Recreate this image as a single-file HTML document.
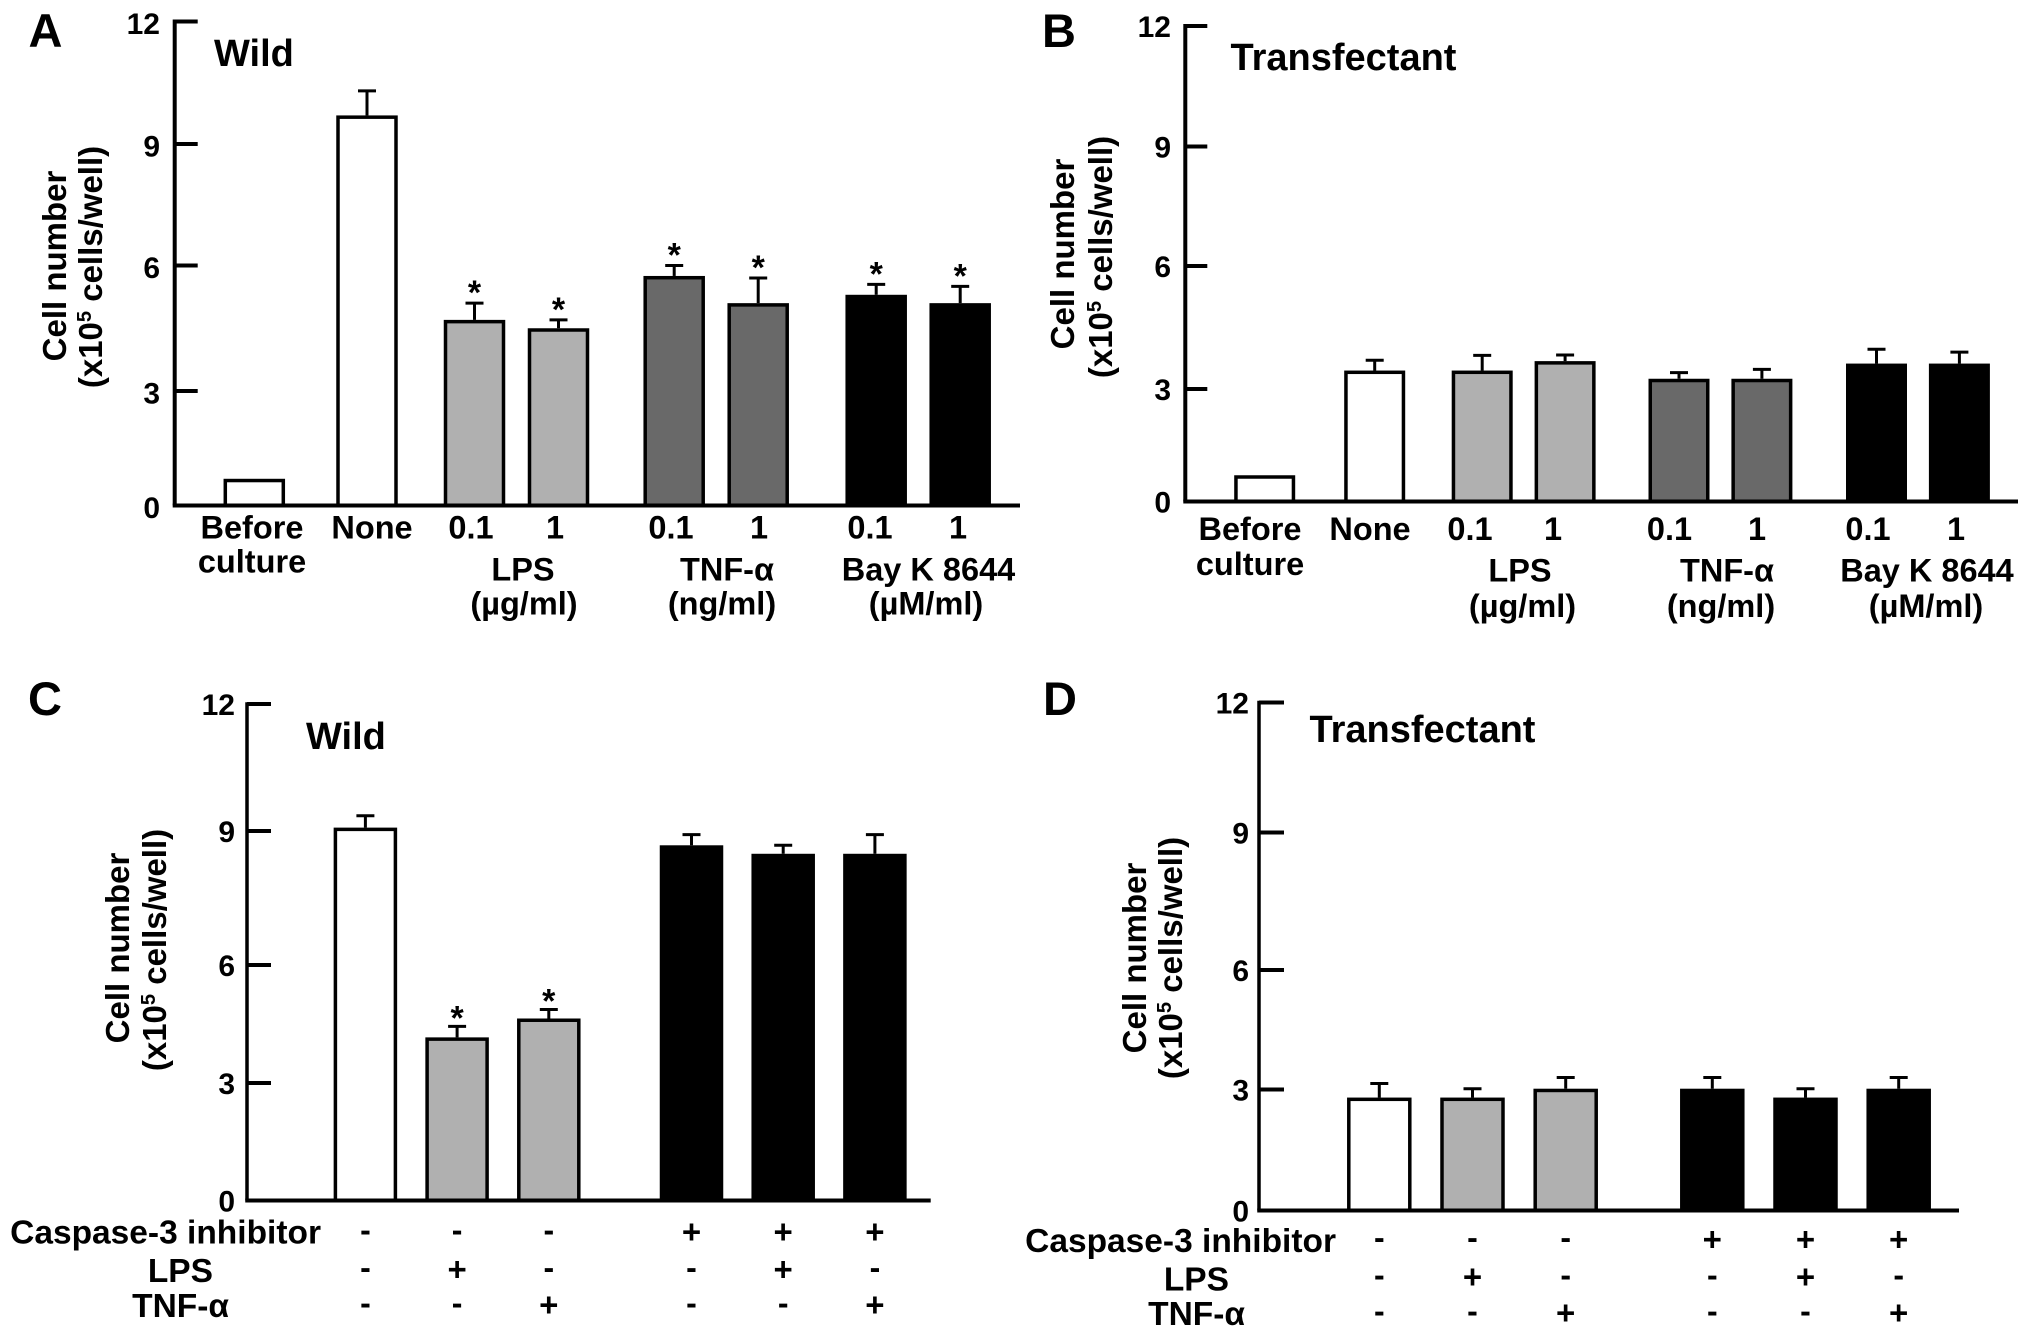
<!DOCTYPE html>
<html lang="en">
<head>
<meta charset="utf-8">
<title>Cell number bar charts</title>
<style>
html,body{margin:0;padding:0;background:#fff;}
svg{display:block;}
text{font-family:"Liberation Sans",Arial,sans-serif;font-weight:bold;fill:#000;}
.lbl{font-size:32.5px;}
.rowlbl{font-size:33.5px;text-anchor:end;}
.ctr{text-anchor:middle;}
.title{font-size:38px;}
.panel-letter{font-size:47px;}
.ytitle{font-size:33px;text-anchor:middle;}
.ytick{font-size:30px;text-anchor:end;}
</style>
</head>
<body>
<svg id="figure" width="2031" height="1338" viewBox="0 0 2031 1338" xmlns="http://www.w3.org/2000/svg">
<rect x="0" y="0" width="2031" height="1338" fill="#fff"/>

<g id="panel-a">
<text class="panel-letter" x="28.5" y="47">A</text>
<text class="title" x="214" y="66">Wild</text>
<text class="ytitle" transform="translate(66,266) rotate(-90)">Cell number</text>
<text class="ytitle" transform="translate(102,267) rotate(-90)">(x10<tspan dy="-11" font-size="20">5</tspan><tspan dy="11"> cells/well)</tspan></text>
<text class="lbl ctr" x="252" y="538.5">Before</text>
<text class="lbl ctr" x="252" y="572.5">culture</text>
<text class="lbl ctr" x="372" y="538.5">None</text>
<text class="lbl ctr" x="471" y="538.5">0.1</text>
<text class="lbl ctr" x="555" y="538.5">1</text>
<text class="lbl ctr" x="671" y="538.5">0.1</text>
<text class="lbl ctr" x="759" y="538.5">1</text>
<text class="lbl ctr" x="870" y="538.5">0.1</text>
<text class="lbl ctr" x="958" y="538.5">1</text>
<text class="lbl ctr" x="523" y="580.5">LPS</text>
<text class="lbl ctr" x="524" y="614.5">(µg/ml)</text>
<text class="lbl ctr" x="727" y="580.5">TNF-α</text>
<text class="lbl ctr" x="722" y="614.5">(ng/ml)</text>
<text class="lbl ctr" x="928.5" y="580.5">Bay K 8644</text>
<text class="lbl ctr" x="926" y="614.5">(µM/ml)</text>
</g>

<g id="panel-b">
<text class="panel-letter" x="1042" y="47">B</text>
<text class="title" x="1230.5" y="70">Transfectant</text>
<text class="ytitle" transform="translate(1074,254) rotate(-90)">Cell number</text>
<text class="ytitle" transform="translate(1112,257) rotate(-90)">(x10<tspan dy="-11" font-size="20">5</tspan><tspan dy="11"> cells/well)</tspan></text>
<text class="lbl ctr" x="1250" y="540">Before</text>
<text class="lbl ctr" x="1250" y="575">culture</text>
<text class="lbl ctr" x="1370" y="540">None</text>
<text class="lbl ctr" x="1470" y="540">0.1</text>
<text class="lbl ctr" x="1553" y="540">1</text>
<text class="lbl ctr" x="1669.5" y="540">0.1</text>
<text class="lbl ctr" x="1757" y="540">1</text>
<text class="lbl ctr" x="1868" y="540">0.1</text>
<text class="lbl ctr" x="1956" y="540">1</text>
<text class="lbl ctr" x="1520" y="581.5">LPS</text>
<text class="lbl ctr" x="1522.5" y="617">(µg/ml)</text>
<text class="lbl ctr" x="1727" y="581.5">TNF-α</text>
<text class="lbl ctr" x="1721" y="617">(ng/ml)</text>
<text class="lbl ctr" x="1927" y="581.5">Bay K 8644</text>
<text class="lbl ctr" x="1926" y="617">(µM/ml)</text>
</g>

<g id="panel-c">
<text class="panel-letter" x="28" y="715">C</text>
<text class="title" x="306" y="749">Wild</text>
<text class="ytitle" transform="translate(129,948) rotate(-90)">Cell number</text>
<text class="ytitle" transform="translate(166,950) rotate(-90)">(x10<tspan dy="-11" font-size="20">5</tspan><tspan dy="11"> cells/well)</tspan></text>
<text class="rowlbl" x="321" y="1243.5">Caspase-3 inhibitor</text>
<text class="rowlbl" x="213" y="1282">LPS</text>
<text class="rowlbl" x="229" y="1317">TNF-α</text>
</g>

<g id="panel-d">
<text class="panel-letter" x="1043" y="715">D</text>
<text class="title" x="1309.5" y="742">Transfectant</text>
<text class="ytitle" transform="translate(1146,958) rotate(-90)">Cell number</text>
<text class="ytitle" transform="translate(1182,958) rotate(-90)">(x10<tspan dy="-11" font-size="20">5</tspan><tspan dy="11"> cells/well)</tspan></text>
<text class="rowlbl" x="1336" y="1252">Caspase-3 inhibitor</text>
<text class="rowlbl" x="1229" y="1290.5">LPS</text>
<text class="rowlbl" x="1245" y="1325">TNF-α</text>
</g>
</svg>

<script>
// ---- chart data ----
const tickValues = [0, 3, 6, 9, 12];
const tickLabels = ['0', '3', '6', '9', '12'];

const categoriesTop = ['before-culture', 'none', 'lps-0-1', 'lps-1', 'tnf-0-1', 'tnf-1', 'bay-0-1', 'bay-1'];
const tonesTop = ['control', 'control', 'lps', 'lps', 'tnf', 'tnf', 'bay', 'bay'];
const groupsTop = [0, 1, 2, 2, 3, 3, 4, 4];

const valuesA = [0.7, 9.7, 4.7, 4.5, 5.75, 5.1, 5.3, 5.1];
const errorsA = [0, 0.6, 0.4, 0.2, 0.25, 0.6, 0.25, 0.4];
const starsA = [0, 0, 1, 1, 1, 1, 1, 1];

const valuesB = [0.7, 3.45, 3.45, 3.68, 3.25, 3.25, 3.62, 3.62];
const errorsB = [0, 0.25, 0.37, 0.15, 0.15, 0.23, 0.35, 0.28];
const starsB = [0, 0, 0, 0, 0, 0, 0, 0];

const categoriesBottom = ['control', 'lps', 'tnf', 'inhibitor', 'inhibitor-lps', 'inhibitor-tnf'];
const tonesBottomC = ['control', 'lps', 'lps', 'bay', 'bay', 'bay'];
const tonesBottomD = ['control', 'lps', 'lps', 'bay', 'bay', 'bay'];
const groupsBottom = [0, 0, 0, 1, 1, 1];
const rowCaspase = ['-', '-', '-', '+', '+', '+'];
const rowLps = ['-', '+', '-', '-', '+', '-'];
const rowTnf = ['-', '-', '+', '-', '-', '+'];

const valuesC = [9.08, 4.16, 4.64, 8.68, 8.49, 8.49];
const errorsC = [0.28, 0.28, 0.23, 0.24, 0.19, 0.43];
const starsC = [0, 1, 1, 0, 0, 0];

const valuesD = [2.8, 2.8, 3.02, 3.02, 2.8, 3.02];
const errorsD = [0.35, 0.22, 0.28, 0.28, 0.22, 0.28];
const starsD = [0, 0, 0, 0, 0, 0];

// ---- styling ----
const toneFill = { control: '#ffffff', lps: '#b0b0b0', tnf: '#696969', bay: '#000000' };

// ---- panel layouts ----
const panelA = {
  id: 'panel-a', categories: categoriesTop, tones: tonesTop, groups: groupsTop,
  values: valuesA, errors: errorsA, stars: starsA,
  axisX: 174.7, axisEnd: 1020, axisW: 4, baseW: 4, tickLen: 23, tickLabelRight: 160, tickLabelDy: 12.5,
  axisAnchors: [505.5, 391, 265.5, 144, 21.5],
  x0: 254.3, step: 84, gaps: [28.7, 23.5, 31.7, 34], barW: 61.5, capW: 18, starDy: -1
};
const panelB = {
  id: 'panel-b', categories: categoriesTop, tones: tonesTop, groups: groupsTop,
  values: valuesB, errors: errorsB, stars: starsB,
  axisX: 1185.3, axisEnd: 2018, axisW: 4, baseW: 4, tickLen: 22, tickLabelRight: 1171, tickLabelDy: 11,
  axisAnchors: [501.5, 389, 266, 146.5, 26],
  x0: 1264.7, step: 82.9, gaps: [27.1, 24.6, 31, 31.7], barW: 61, capW: 18, starDy: 0
};
const panelC = {
  id: 'panel-c', categories: categoriesBottom, tones: tonesBottomC, groups: groupsBottom,
  values: valuesC, errors: errorsC, stars: starsC,
  axisX: 247, axisEnd: 930.7, axisW: 3.5, baseW: 4, tickLen: 24, tickLabelRight: 235, tickLabelDy: 11,
  axisAnchors: [1200.5, 1083, 965, 831, 704],
  x0: 365.4, step: 91.7, gaps: [51], barW: 63.5, capW: 18, starDy: 1,
  rows: [rowCaspase, rowLps, rowTnf], rowY: [1232, 1269.5, 1305]
};
const panelD = {
  id: 'panel-d', categories: categoriesBottom, tones: tonesBottomD, groups: groupsBottom,
  values: valuesD, errors: errorsD, stars: starsD,
  axisX: 1259, axisEnd: 1959, axisW: 3.5, baseW: 4, tickLen: 25, tickLabelRight: 1249, tickLabelDy: 11,
  axisAnchors: [1210.5, 1089.5, 970, 832.5, 702.5],
  x0: 1379.3, step: 93.2, gaps: [53.4], barW: 64.5, capW: 18, starDy: 0,
  rows: [rowCaspase, rowLps, rowTnf], rowY: [1239.5, 1277, 1313]
};

// ---- axis functions ----
function yScale(p, v) {
  const a = p.axisAnchors;
  let k = 0;
  while (k < tickValues.length - 2 && v > tickValues[k + 1]) k++;
  const t = (v - tickValues[k]) / (tickValues[k + 1] - tickValues[k]);
  return a[k] + t * (a[k + 1] - a[k]);
}
function xCenter(p, i) {
  let gap = 0;
  for (let g = 0; g < p.groups[i]; g++) gap += p.gaps[g];
  return p.x0 + p.step * i + gap;
}
function make(tag, attrs, parent) {
  const el = document.createElementNS('http://www.w3.org/2000/svg', tag);
  for (const k in attrs) el.setAttribute(k, attrs[k]);
  parent.appendChild(el);
  return el;
}

function drawPanel(p) {
  const root = document.getElementById(p.id);
  const base = yScale(p, 0);

  // bars and error bars
  p.values.forEach(function (v, i) {
    const cx = xCenter(p, i);
    const top = yScale(p, v);
    if (p.errors[i] > 0) {
      const errTop = yScale(p, v + p.errors[i]);
      const stem = make('line', { x1: cx, x2: cx, y1: top, y2: errTop, stroke: '#000', 'stroke-width': 3 }, root);
      
      
      const cap = make('line', { x1: cx - p.capW / 2, x2: cx + p.capW / 2, y1: errTop, y2: errTop, stroke: '#000', 'stroke-width': 3 }, root);
      
      
    }
    const bar = make('rect', {
      x: cx - p.barW / 2 + 1.75, y: top + 1.75, width: p.barW - 3.5, height: Math.max(base - top - 1.75, 0),
      fill: toneFill[p.tones[i]], stroke: '#000', 'stroke-width': 3.5
    }, root);
    
    
    if (p.stars[i]) {
      const errTop2 = yScale(p, v + p.errors[i]);
      const star = make('text', { x: cx, y: errTop2 + 2 + p.starDy, 'text-anchor': 'middle', 'font-size': 34 }, root);
      star.textContent = '*';
      
      
    }
  });

  // axes
  const yAxis = make('line', { x1: p.axisX, x2: p.axisX, y1: yScale(p, 12) - p.axisW / 2, y2: base, stroke: '#000', 'stroke-width': p.axisW }, root);
  
  
  const xAxis = make('line', { x1: p.axisX - p.axisW / 2, x2: p.axisEnd, y1: base, y2: base, stroke: '#000', 'stroke-width': p.baseW }, root);
  
  

  tickValues.forEach(function (t, i) {
    const y = yScale(p, t);
    if (t > 0) {
      const tick = make('line', { x1: p.axisX, x2: p.axisX + p.tickLen, y1: y, y2: y, stroke: '#000', 'stroke-width': 4 }, root);
      
      
    }
    const label = make('text', { x: p.tickLabelRight, y: y + p.tickLabelDy, class: 'ytick' }, root);
    label.textContent = tickLabels[i];
    
    
  });

  // treatment sign rows
  if (p.rows) {
    p.rows.forEach(function (row, r) {
      row.forEach(function (sign, i) {
        const plus = sign === '+';
        const mark = make('text', {
          x: xCenter(p, i), y: p.rowY[r] + (plus ? 11 : 9),
          'text-anchor': 'middle', 'font-size': plus ? 33 : 32
        }, root);
        mark.textContent = sign;
        
        
      });
    });
  }
}

[panelA, panelB, panelC, panelD].forEach(drawPanel);
</script>
</body>
</html>
